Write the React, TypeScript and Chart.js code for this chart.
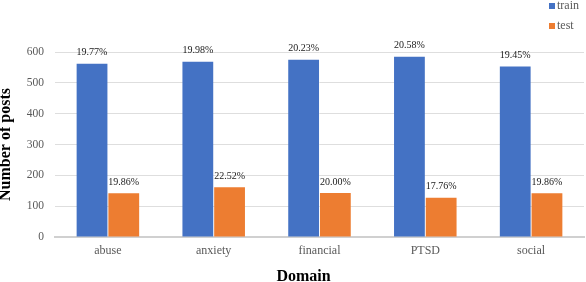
import React, { useEffect, useRef } from "react";
import { Chart, registerables } from "chart.js";

Chart.register(...registerables);

const categories = ["abuse", "anxiety", "financial", "PTSD", "social"];
const trainValues = [562, 568, 575, 585, 553];
const testValues = [142, 161, 143, 127, 142];
const seriesNames = ["train", "test"];
const seriesColors = ["#4472C4", "#ED7D31"];
const yTicks = [0, 100, 200, 300, 400, 500, 600];
const xAxisTitle = "Domain";
const yAxisTitle = "Number of posts";

const SERIF = "'Liberation Serif', 'Times New Roman', serif";

const pctLabels = {
  id: "pctLabels",
  afterDatasetsDraw(chart: any) {
    const ctx = chart.ctx;
    ctx.save();
    ctx.font = `10px ${SERIF}`;
    ctx.fillStyle = "#1a1a1a";
    ctx.textAlign = "center";
    ctx.textBaseline = "middle";
    chart.data.datasets.forEach((ds: any, di: number) => {
      const total = ds.data.reduce((a: number, b: number) => a + b, 0);
      const meta = chart.getDatasetMeta(di);
      meta.data.forEach((bar: any, i: number) => {
        const pct = ((ds.data[i] / total) * 100).toFixed(2) + "%";
        ctx.fillText(pct, bar.x, bar.y - 11);
      });
    });
    ctx.restore();
  },
};

const customLegendAndTitle = {
  id: "customLegendAndTitle",
  afterDraw(chart: any) {
    const ctx = chart.ctx;
    ctx.save();
    ctx.font = `12px ${SERIF}`;
    ctx.textBaseline = "middle";
    ctx.textAlign = "left";
    chart.data.datasets.forEach((ds: any, i: number) => {
      const y = 6 + i * 20;
      ctx.fillStyle = ds.backgroundColor;
      ctx.fillRect(549, y - 3, 6, 6);
      ctx.fillStyle = "#595959";
      ctx.fillText(ds.label, 557, y);
    });
    // x axis title
    const area = chart.chartArea;
    ctx.font = `bold 16px ${SERIF}`;
    ctx.fillStyle = "#000000";
    ctx.textAlign = "center";
    ctx.fillText(xAxisTitle, (area.left + area.right) / 2 - 16, 277);
    ctx.restore();
  },
};

export default function App() {
  const ref = useRef<HTMLCanvasElement | null>(null);
  useEffect(() => {
    if (!ref.current) return;
    const chart = new Chart(ref.current, {
      type: "bar",
      data: {
        labels: categories,
        datasets: [
          {
            label: seriesNames[0],
            data: trainValues,
            backgroundColor: seriesColors[0],
            categoryPercentage: 0.6,
            barPercentage: 0.97,
          },
          {
            label: seriesNames[1],
            data: testValues,
            backgroundColor: seriesColors[1],
            categoryPercentage: 0.6,
            barPercentage: 0.97,
          },
        ],
      },
      options: {
        animation: false,
        responsive: true,
        maintainAspectRatio: false,
        layout: { padding: { top: 52, right: 2, left: 0, bottom: 0 } },
        plugins: {
          legend: { display: false },
          tooltip: { enabled: false },
        },
        scales: {
          x: {
            grid: { display: false, drawTicks: false },
            border: { display: true, color: "#d0d0d0", width: 2 },
            ticks: {
              color: "#595959",
              font: { family: SERIF, size: 12 },
              padding: 7,
            },
            afterFit: (scale: any) => {
              scale.height = 45;
            },
          },
          y: {
            min: 0,
            max: 600,
            afterBuildTicks: (scale: any) => {
              scale.ticks = yTicks.map((v) => ({ value: v }));
            },
            grid: { color: "#dedede", lineWidth: 1, drawTicks: false },
            border: { display: false },
            ticks: {
              color: "#595959",
              font: { family: SERIF, size: 11.5 },
              padding: 11,
            },
            title: {
              display: true,
              text: yAxisTitle,
              color: "#000000",
              font: { family: SERIF, size: 16, weight: "bold" },
              padding: { top: -4, bottom: 0 },
            },
            afterFit: (scale: any) => {
              scale.width = 55;
            },
          },
        },
      },
      plugins: [pctLabels, customLegendAndTitle],
    });
    return () => chart.destroy();
  }, []);
  return (
    <div style={{ position: "fixed", left: 0, top: 0, width: 586, height: 282 }}>
      <canvas ref={ref} />
    </div>
  );
}
